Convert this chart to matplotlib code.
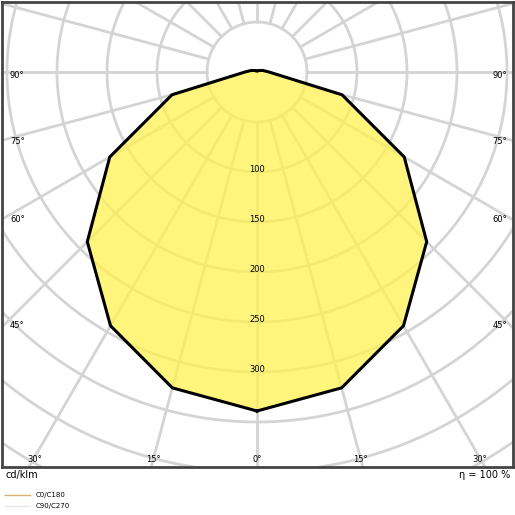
import numpy as np
import matplotlib
matplotlib.use('Agg')
import matplotlib.pyplot as plt

# luminous intensity (cd/klm) against gamma angle, both C-planes alike
gamma = [0, 15, 30, 45, 60, 75, 90, 105, 120, 135, 150, 165, 180]
c0_c180 = [339, 327, 293, 240, 170, 88, 12, 6, 3, 2, 1, 1, 1]
c90_c270 = [339, 327, 293, 240, 170, 88, 12, 6, 3, 2, 1, 1, 1]
ring_labels = [100, 150, 200, 250, 300]
angle_labels = [0, 15, 30, 45, 60, 75, 90]

fig = plt.figure(figsize=(5.15, 5.15), dpi=100)
ax = fig.add_axes([2/515, 48/515, 511/515, 465/515])
ax.set_xlim(-255, 256)
ax.set_ylim(-395, 70)
ax.set_aspect('equal')
ax.set_xticks([])
ax.set_yticks([])
for s in ax.spines.values():
    s.set_linewidth(2)
    s.set_color('#444444')

grid = '#d4d4d4'
t = np.linspace(0, 2*np.pi, 400)
for r in range(50, 751, 50):
    ax.plot(r*np.cos(t), r*np.sin(t), color=grid, lw=2, zorder=1)
for a in range(0, 360, 15):
    ar = np.radians(a)
    ax.plot([50*np.sin(ar), 800*np.sin(ar)], [-50*np.cos(ar), -800*np.cos(ar)],
            color=grid, lw=2, zorder=1)

def curve(g, v):
    g = np.radians(np.array(g + [-x for x in g[::-1]]))
    v = np.array(v + v[::-1])
    return v*np.sin(g), -v*np.cos(g)

x, y = curve(gamma, c0_c180)
ax.fill(x, y, color='#fff250', alpha=0.75, zorder=2, lw=0)
x2, y2 = curve(gamma, c90_c270)
ax.plot(x2, y2, color='#eeeeee', lw=1, zorder=3)
ax.plot(x, y, color='black', lw=2.2, zorder=4)

for r in ring_labels:
    ax.text(0, -r + 2, str(r), fontsize=6, ha='center', va='center', zorder=5)

for a in angle_labels:
    lab = f'{a}°'
    if a == 0:
        ax.text(0, -387, lab, fontsize=6, ha='center', va='center')
        continue
    ar = np.radians(a)
    if a >= 45:
        yy = -250*np.cos(ar)/np.sin(ar) - 3
        ax.text(-247, yy, lab, fontsize=6, ha='left', va='center')
        ax.text(250, yy, lab, fontsize=6, ha='right', va='center')
    else:
        xx = 385*np.tan(ar)
        ax.text(-xx, -387, lab, fontsize=6, ha='center', va='center')
        ax.text(xx, -387, lab, fontsize=6, ha='center', va='center')

fig.text(5/515, 1 - 475/515, 'cd/klm', fontsize=7, va='center')
fig.text(510/515, 1 - 475/515, 'η = 100 %', fontsize=7, va='center', ha='right')
fig.add_artist(plt.Line2D([5/515, 30/515], [1-495/515]*2, color='#d8b070', lw=1))
fig.add_artist(plt.Line2D([5/515, 30/515], [1-506/515]*2, color='#e8e8e8', lw=1))
fig.text(36/515, 1 - 495/515, 'C0/C180', fontsize=5, va='center')
fig.text(36/515, 1 - 506/515, 'C90/C270', fontsize=5, va='center')

fig.savefig('out.png', dpi=100)
